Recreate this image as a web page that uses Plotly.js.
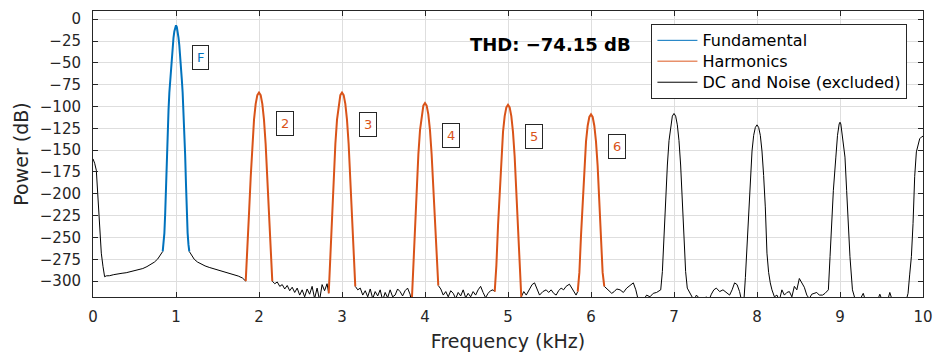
<!DOCTYPE html>
<html>
<head>
<meta charset="utf-8">
<script src="https://cdn.plot.ly/plotly-3.0.1.min.js"></script>
<style>html,body{margin:0;padding:0;background:#fff;}#chart{width:941px;height:354px;}</style>
</head>
<body>
<div id="chart"></div>
<script>
// ---------- DATA (kHz, dB) ----------
// Fundamental (1 kHz)
const fundFreq = [0.84,0.85,0.86,0.87,0.88,0.89,0.90,0.91,0.92,0.93,0.94,0.95,0.96,0.97,0.98,0.99,1.00,
                  1.01,1.02,1.03,1.04,1.05,1.06,1.07,1.08,1.09,1.10,1.11,1.12,1.13,1.14,1.15,1.16];
const fundPow  = [-266,-258,-245,-222,-188,-155,-127,-104,-84,-69,-55,-41,-30,-21,-14,-9,-7,
                  -9,-14,-21,-30,-41,-55,-69,-84,-104,-127,-155,-188,-222,-245,-258,-266];

// Harmonics 2..6
const harm2Freq = [1.84,1.86,1.88,1.90,1.92,1.94,1.96,1.98,2.00,2.02,2.04,2.06,2.08,2.10,2.12,2.14,2.16];
const harm2Pow  = [-300,-268,-222,-181,-143,-115,-97,-87,-84,-87,-97,-115,-143,-181,-222,-268,-300];
const harm3Freq = [2.84,2.86,2.88,2.90,2.92,2.94,2.96,2.98,3.00,3.02,3.04,3.06,3.08,3.10,3.12,3.14,3.16];
const harm3Pow  = [-314,-268,-222,-181,-143,-115,-97,-87,-84,-87,-97,-115,-143,-181,-222,-268,-306];
const harm4Freq = [3.84,3.86,3.88,3.90,3.92,3.94,3.96,3.98,4.00,4.02,4.04,4.06,4.08,4.10,4.12,4.14,4.16];
const harm4Pow  = [-325,-280,-234,-193,-155,-127,-109,-99,-96,-99,-109,-127,-155,-193,-234,-280,-305];
const harm5Freq = [4.84,4.86,4.88,4.90,4.92,4.94,4.96,4.98,5.00,5.02,5.04,5.06,5.08,5.10,5.12,5.14,5.16];
const harm5Pow  = [-312,-282,-236,-195,-157,-129,-111,-101,-98,-101,-111,-129,-157,-195,-236,-282,-318];
const harm6Freq = [5.84,5.86,5.88,5.90,5.92,5.94,5.96,5.98,6.00,6.02,6.04,6.06,6.08,6.10,6.12,6.14,6.16];
const harm6Pow  = [-312,-290,-247,-206,-168,-140,-122,-112,-109,-112,-122,-140,-168,-206,-247,-290,-306];

// DC and noise (excluded) segments
const noise0Freq = [0,0.02,0.04,0.06,0.08,0.10,0.12,0.14,0.16,0.20,0.25,0.30,0.35,0.40,0.45,0.50,0.55,0.60,0.65,0.70,0.74,0.78,0.81,0.84];
const noise0Pow  = [-160,-165,-173,-207,-245,-268,-283,-295,-294,-293.8,-292.6,-292.2,-291,-290.4,-289.2,-288.4,-286.8,-285.6,-283.4,-281,-278.2,-274.6,-270.5,-266];
const noise1Freq = [1.16,1.19,1.22,1.26,1.30,1.35,1.40,1.45,1.50,1.55,1.60,1.65,1.70,1.75,1.80,1.84];
const noise1Pow  = [-266,-271,-275,-278.2,-280.4,-282.6,-284.3,-285.6,-287.4,-288.6,-290.2,-291.2,-292.8,-294.2,-296.4,-300];
const noise2Freq = [2.16,2.19,2.22,2.25,2.28,2.31,2.34,2.37,2.40,2.43,2.46,2.49,2.52,2.55,2.58,2.61,2.64,2.67,2.70,2.73,2.76,2.79,2.82,2.84];
const noise2Pow  = [-300,-303,-301,-306,-304,-309,-305,-311,-307,-313,-308,-316,-310,-318,-309,-315,-306,-320,-308,-322,-304,-311,-303,-314];
const noise3Freq = [3.16,3.19,3.22,3.25,3.28,3.31,3.34,3.37,3.40,3.43,3.46,3.49,3.52,3.55,3.58,3.61,3.64,3.67,3.70,3.73,3.76,3.79,3.82,3.84];
const noise3Pow  = [-306,-310,-308,-316,-311,-318,-309,-320,-312,-317,-310,-322,-313,-319,-310,-318,-316,-309,-312,-317,-311,-308,-315,-325];
const noise4Freq = [4.16,4.19,4.22,4.25,4.28,4.31,4.34,4.37,4.40,4.43,4.46,4.49,4.52,4.55,4.58,4.61,4.64,4.67,4.70,4.73,4.76,4.79,4.82,4.84];
const noise4Pow  = [-305,-309,-316,-312,-318,-311,-314,-320,-313,-317,-310,-319,-314,-318,-312,-316,-310,-306,-313,-319,-314,-311,-310,-312];
const noise5Freq = [5.16,5.19,5.22,5.26,5.29,5.32,5.35,5.38,5.42,5.46,5.49,5.52,5.55,5.58,5.61,5.64,5.67,5.70,5.74,5.78,5.82,5.84];
const noise5Pow  = [-318,-312,-316,-308,-304,-302,-309,-316,-312,-310,-313,-310,-314,-316,-311,-308,-310,-306,-303.5,-310,-316,-312];
const noise6Freq = [6.16,6.19,6.22,6.25,6.28,6.31,6.35,6.39,6.43,6.47,6.51,6.54,6.57,6.61,6.64,6.67,6.71,6.75,6.79,6.83,
  6.84,6.86,6.88,6.90,6.92,6.94,6.96,6.98,7.00,7.02,7.04,7.06,7.08,7.10,7.12,7.14,7.16,
  7.18,7.21,7.24,7.27,7.30,7.33,7.36,7.39,7.42,7.45,7.48,7.51,7.55,7.59,7.63,7.67,7.70,7.73,7.76,7.79,7.82,
  7.84,7.86,7.88,7.90,7.92,7.94,7.96,7.98,8.00,8.02,8.04,8.06,8.08,8.10,8.12,8.14,8.16,
  8.18,8.21,8.24,8.27,8.30,8.33,8.36,8.39,8.42,8.45,8.48,8.51,8.54,8.57,8.60,8.63,8.66,8.69,8.72,8.75,8.79,8.82,
  8.84,8.86,8.88,8.90,8.92,8.95,8.97,8.99,9.00,9.01,9.03,9.06,9.08,9.10,9.12,9.15,
  9.18,9.22,9.26,9.28,9.30,9.34,9.38,9.42,9.46,9.48,9.50,9.54,9.58,9.60,9.62,9.66,9.70,9.74,9.78,9.80,
  9.82,9.84,9.86,9.88,9.90,9.92,9.94,9.96,9.98,10.0];
const noise6Pow = [-306,-309,-311,-314,-312,-309,-310,-313,-308,-305,-302,-310,-322,-325,-320,-316,-318,-314,-313,-310,
  -310,-289,-246,-205,-167,-139,-121,-111,-108,-111,-121,-139,-167,-205,-246,-289,-308,
  -312,-318,-322,-316,-319,-325,-320,-318,-322,-315,-310,-308,-312,-310,-313,-316,-310,-302,-304,-312,-325,
  -326,-296,-256,-215,-179,-151,-133,-124,-121,-124,-133,-151,-179,-215,-268,-290,-302,
  -310,-318,-316,-322,-310,-316,-313,-312,-318,-306,-310,-297,-302,-307,-316,-320,-315,-314,-313,-316,-316,-314,
  -312,-310,-272,-234,-196,-158,-133,-120,-118,-120,-133,-158,-196,-234,-272,-310,
  -320,-325,-318,-314,-320,-326,-324,-328,-320,-315,-320,-327,-320,-313,-319,-326,-330,-325,-328,-322,
  -314,-292,-272,-234,-180,-152,-143,-137,-135,-134];

// Labels
const labelText = ['F','2','3','4','5','6'];
const labelFreq = [1.30,2.31,3.31,4.31,5.31,6.31];
const labelPow  = [-43.8,-119.5,-120.8,-133.4,-134.4,-145.6];
const thdText = 'THD: \u221274.15 dB';
const legendNames = ['Fundamental','Harmonics','DC and Noise (excluded)'];
const xTicks = [0,1,2,3,4,5,6,7,8,9,10];
const yTicks = [0,-25,-50,-75,-100,-125,-150,-175,-200,-225,-250,-275,-300];

// ---------- BUILD ----------
const BLUE = '#0072BD', ORANGE = '#D95319', BLACK = '#000000';
function join(xs, ys) {
  const X = [], Y = [];
  xs.forEach((x, i) => { if (i) { X.push(null); Y.push(null); } X.push(...x); Y.push(...ys[i]); });
  return {X, Y};
}
const noise = join([noise0Freq,noise1Freq,noise2Freq,noise3Freq,noise4Freq,noise5Freq,noise6Freq],
                   [noise0Pow,noise1Pow,noise2Pow,noise3Pow,noise4Pow,noise5Pow,noise6Pow]);
const harm = join([harm2Freq,harm3Freq,harm4Freq,harm5Freq,harm6Freq],
                  [harm2Pow,harm3Pow,harm4Pow,harm5Pow,harm6Pow]);

const legText = t => '<span style="font-size:16px">' + t + '</span>';
const traces = [
  {x: noise.X, y: noise.Y, type: 'scatter', mode: 'lines', line: {color: BLACK, width: 1}, connectgaps: false, showlegend: false},
  {x: harm.X, y: harm.Y, type: 'scatter', mode: 'lines', line: {color: ORANGE, width: 2}, connectgaps: false, showlegend: false},
  {x: fundFreq, y: fundPow, type: 'scatter', mode: 'lines', line: {color: BLUE, width: 2}, showlegend: false},
  {x: [null], y: [null], type: 'scatter', mode: 'lines', name: legText(legendNames[0]), line: {color: BLUE, width: 1}},
  {x: [null], y: [null], type: 'scatter', mode: 'lines', name: legText(legendNames[1]), line: {color: '#E8906B', width: 1.5}},
  {x: [null], y: [null], type: 'scatter', mode: 'lines', name: legText(legendNames[2]), line: {color: BLACK, width: 1}}
];

const annotations = labelText.map((t, i) => ({
  x: labelFreq[i], y: labelPow[i], xref: 'x', yref: 'y', text: t, showarrow: false,
  font: {family: 'DejaVu Sans', size: 13, color: i === 0 ? BLUE : ORANGE},
  bgcolor: '#ffffff', bordercolor: '#262626', borderwidth: 1, borderpad: 4,
  xanchor: 'center', yanchor: 'middle'
}));
annotations.push({x: 5.51, y: -29.5, xref: 'x', yref: 'y', text: '<b>' + thdText + '</b>', showarrow: false,
  font: {family: 'DejaVu Sans', size: 18, color: '#000'}, xanchor: 'center', yanchor: 'middle'});

const axisCommon = {
  showline: true, linecolor: '#262626', linewidth: 1, mirror: 'ticks',
  ticks: 'inside', ticklen: 5, tickcolor: '#262626', tickwidth: 1,
  showgrid: true, gridcolor: '#dedede', gridwidth: 1, zeroline: false,
  tickfont: {family: 'DejaVu Sans', size: 15, color: '#262626'}
};

const layout = {
  width: 941, height: 354,
  margin: {l: 93, r: 18, t: 11, b: 57},
  paper_bgcolor: '#ffffff', plot_bgcolor: '#ffffff',
  font: {family: 'DejaVu Sans', color: '#262626'},
  showlegend: true,
  legend: {x: 0.6728, y: 0.955, xanchor: 'left', yanchor: 'top',
    bgcolor: '#ffffff', bordercolor: '#262626', borderwidth: 1,
    font: {family: 'DejaVu Sans', size: 13.8, color: '#000'}, itemwidth: 40, tracegroupgap: 0},
  xaxis: Object.assign({}, axisCommon, {
    range: [0, 10], tickvals: xTicks, ticktext: xTicks.map(String), ticklabelstandoff: 6,
    title: {text: 'Frequency (kHz)', font: {family: 'DejaVu Sans', size: 19, color: '#262626'}, standoff: 9}
  }),
  yaxis: Object.assign({}, axisCommon, {
    range: [-318.2, 9.4], tickvals: yTicks, ticktext: yTicks.map(v => v < 0 ? '\u2212' + Math.abs(v) : String(v)), ticklabelstandoff: 8,
    title: {text: 'Power (dB)', font: {family: 'DejaVu Sans', size: 19, color: '#262626'}, standoff: 6}
  }),
  annotations: annotations,
  hovermode: false
};

Plotly.newPlot('chart', traces, layout, {displayModeBar: false, staticPlot: true});
</script>
</body>
</html>
